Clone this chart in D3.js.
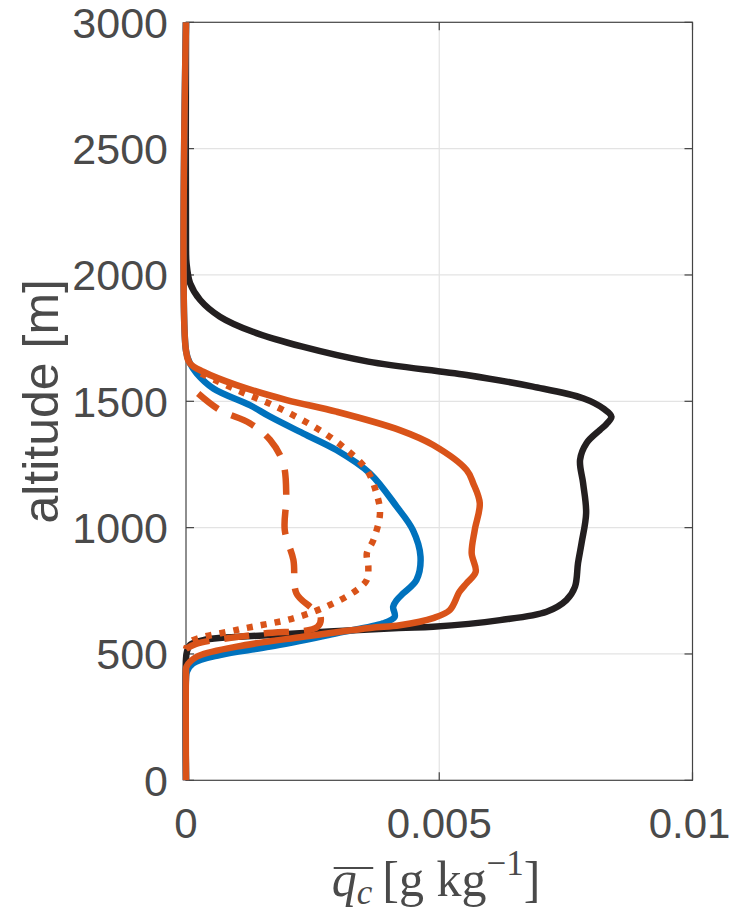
<!DOCTYPE html>
<html>
<head>
<meta charset="utf-8">
<script src="https://cdn.jsdelivr.net/npm/d3@7"></script>
<style>
  body { margin: 0; background: #fff; }
  svg { display: block; }
</style>
</head>
<body>
<div id="chart"></div>
<script>

// profiles as [q_c (g/kg), altitude (m)]
const blackProfile = [
    [0, 3000], [0, 2100], [0.00001, 2047], [0.00008, 1968], [0.00028, 1901], [0.00067, 1835],
    [0.00132, 1775], [0.0023, 1716], [0.0036, 1657], [0.00554, 1604], [0.00685, 1558],
    [0.00784, 1512], [0.00825, 1470], [0.0084, 1439], [0.0083, 1410], [0.00817, 1386],
    [0.00791, 1335], [0.00778, 1268], [0.00784, 1176], [0.0079, 1058], [0.00781, 939],
    [0.00774, 860], [0.00768, 766], [0.00751, 713], [0.00712, 667], [0.0062, 634],
    [0.00488, 608], [0.0042, 603], [0.00166, 575], [0.00034, 555], [0.00008, 536],
    [0.00002, 510], [0, 480], [0, 0]
];

const blueProfile = [
    [0, 3000], [0, 1700], [0.00008, 1650], [0.00021, 1611], [0.00054, 1551], [0.00126, 1485],
    [0.00166, 1439], [0.00231, 1373], [0.00297, 1307], [0.00363, 1215], [0.00416, 1083],
    [0.00448, 990], [0.00463, 885], [0.00455, 793], [0.00429, 740], [0.00416, 713],
    [0.00409, 687], [0.00412, 647], [0.00389, 621], [0.00297, 582], [0.00166, 529],
    [0.00067, 496], [0.00014, 463], [0.00002, 431], [0, 400], [0, 0]
];

const orangeSolid = [
    [0, 3000], [0, 1700], [0.00008, 1650], [0.00034, 1617], [0.001, 1564], [0.00199, 1505],
    [0.00297, 1459], [0.00422, 1386], [0.00488, 1327], [0.00554, 1228], [0.00567, 1176],
    [0.0058, 1097], [0.0057, 990], [0.00564, 899], [0.00572, 825], [0.00554, 780],
    [0.0054, 746], [0.00521, 674], [0.00488, 642], [0.00422, 614], [0.00363, 603],
    [0.00231, 568], [0.001, 529], [0.00021, 489], [0.00001, 450], [0, 420], [0, 0]
];

const orangeDotted = [
    [0.0003, 1610], [0.001, 1545], [0.00179, 1478], [0.00258, 1393], [0.0031, 1320],
    [0.00357, 1228], [0.00376, 1136], [0.00383, 1057], [0.0037, 951], [0.00357, 898],
    [0.0036, 845], [0.00357, 793], [0.00337, 753], [0.00284, 694], [0.00212, 641],
    [0.001, 595], [0.00008, 548], [0, 520]
];

const orangeDashed = [
    [0.00024, 1531], [0.00067, 1465], [0.00126, 1413], [0.00166, 1347], [0.00192, 1254],
    [0.00198, 1122], [0.00195, 990], [0.00212, 872], [0.00218, 740], [0.00245, 687],
    [0.00265, 655], [0.0026, 608], [0.0015, 580], [0.0002, 540], [0, 520]
];

const xTicks = [0, 0.005, 0.01];
const xTickLabels = ["0", "0.005", "0.01"];
const yTicks = [0, 500, 1000, 1500, 2000, 2500, 3000];

const width = 732, height = 912;
const plot = { left: 186, right: 692.5, top: 22.3, bottom: 780.3 };
const textColor = "#4a4a4a";

const svg = d3.select("#chart").append("svg")
    .attr("width", width)
    .attr("height", height)
    .style("background-color", "white");

const x = d3.scaleLinear().domain([0, 0.01]).range([plot.left, plot.right]);
const y = d3.scaleLinear().domain([0, 3000]).range([plot.bottom, plot.top]);

// grid
const grid = svg.append("g").attr("class", "grid")
    .attr("stroke", "#e3e3e3")
    .attr("stroke-width", 1.2);
grid.selectAll(".gx").data(xTicks.slice(1, -1)).join("line")
    .attr("x1", d => x(d)).attr("x2", d => x(d))
    .attr("y1", plot.top).attr("y2", plot.bottom);
grid.selectAll(".gy").data(yTicks.slice(1, -1)).join("line")
    .attr("x1", plot.left).attr("x2", plot.right)
    .attr("y1", d => y(d)).attr("y2", d => y(d));

// box + inward ticks
const axisColor = "#444";
const tickLen = 8;
const box = svg.append("g").attr("stroke", axisColor).attr("stroke-width", 1.2).attr("fill", "none");
box.append("rect")
    .attr("x", plot.left).attr("y", plot.top)
    .attr("width", plot.right - plot.left).attr("height", plot.bottom - plot.top);
box.selectAll(".tb").data(xTicks).join("line")
    .attr("x1", d => x(d)).attr("x2", d => x(d))
    .attr("y1", plot.bottom).attr("y2", plot.bottom - tickLen);
box.selectAll(".tt").data(xTicks).join("line").attr("class", "tt")
    .attr("x1", d => x(d)).attr("x2", d => x(d))
    .attr("y1", plot.top).attr("y2", plot.top + tickLen);
box.selectAll(".tl").data(yTicks).join("line").attr("class", "tl")
    .attr("x1", plot.left).attr("x2", plot.left + tickLen)
    .attr("y1", d => y(d)).attr("y2", d => y(d));
box.selectAll(".tr").data(yTicks).join("line").attr("class", "tr")
    .attr("x1", plot.right).attr("x2", plot.right - tickLen)
    .attr("y1", d => y(d)).attr("y2", d => y(d));

// tick labels
const font = "'Liberation Sans', Arial, Helvetica, sans-serif";
svg.append("g").selectAll("text").data(yTicks).join("text")
    .attr("x", plot.left - 18)
    .attr("y", d => y(d))
    .attr("dy", "0.36em")
    .attr("text-anchor", "end")
    .style("font-family", font)
    .style("font-size", "43px")
    .style("fill", textColor)
    .text(d => d);

svg.append("g").selectAll("text").data(xTicks).join("text")
    .attr("x", d => x(d))
    .attr("dx", (d, i) => i === xTicks.length - 1 ? -3 : 0)
    .attr("y", 838)
    .attr("text-anchor", "middle")
    .style("font-family", font)
    .style("font-size", "42px")
    .style("fill", textColor)
    .text((d, i) => xTickLabels[i]);

// axis labels
svg.append("text")
    .attr("transform", `translate(58, ${(plot.top + plot.bottom) / 2}) rotate(-90)`)
    .attr("text-anchor", "middle")
    .style("font-family", font)
    .style("font-size", "50px")
    .style("fill", textColor)
    .text("altitude [m]");

const xl = svg.append("text")
    .attr("x", 436)
    .attr("y", 896)
    .attr("text-anchor", "middle")
    .style("font-family", "'Liberation Serif', 'DejaVu Serif', serif")
    .style("font-size", "50px")
    .style("fill", textColor);
xl.append("tspan").style("font-style", "italic").text("q");
xl.append("tspan").style("font-style", "italic").style("font-size", "35px").attr("dy", 8).text("c");
xl.append("tspan").attr("dy", -8).text("\u2009[g kg");
xl.append("tspan").style("font-size", "35px").attr("dy", -21).text("\u22121");
xl.append("tspan").attr("dy", 21).text("]");

// overline over q_c, measured from the rendered glyphs
const xn = xl.node();
const qStart = xn.getStartPositionOfChar(0).x;
const cEnd = xn.getEndPositionOfChar(1).x;
svg.append("line")
    .attr("x1", qStart + 2).attr("x2", cEnd + 1)
    .attr("y1", 868).attr("y2", 868)
    .attr("stroke", textColor)
    .attr("stroke-width", 2.2);

// profiles
const line = d3.line()
    .x(d => x(d[0]))
    .y(d => y(d[1]))
    .curve(d3.curveCatmullRom.alpha(0.5));

const series = [
    { data: blackProfile, color: "#231f20", dash: null },
    { data: blueProfile, color: "#0072bd", dash: null },
    { data: orangeDotted, color: "#d95319", dash: "6,8" },
    { data: orangeDashed, color: "#d95319", dash: "25,15" },
    { data: orangeSolid, color: "#d95319", dash: null }
];

svg.append("g").attr("class", "profiles")
    .selectAll("path").data(series).join("path")
    .attr("d", d => line(d.data))
    .attr("fill", "none")
    .attr("stroke", d => d.color)
    .attr("stroke-width", 6.5)
    .attr("stroke-linejoin", "round")
    .attr("stroke-dasharray", d => d.dash);

</script>
</body>
</html>
